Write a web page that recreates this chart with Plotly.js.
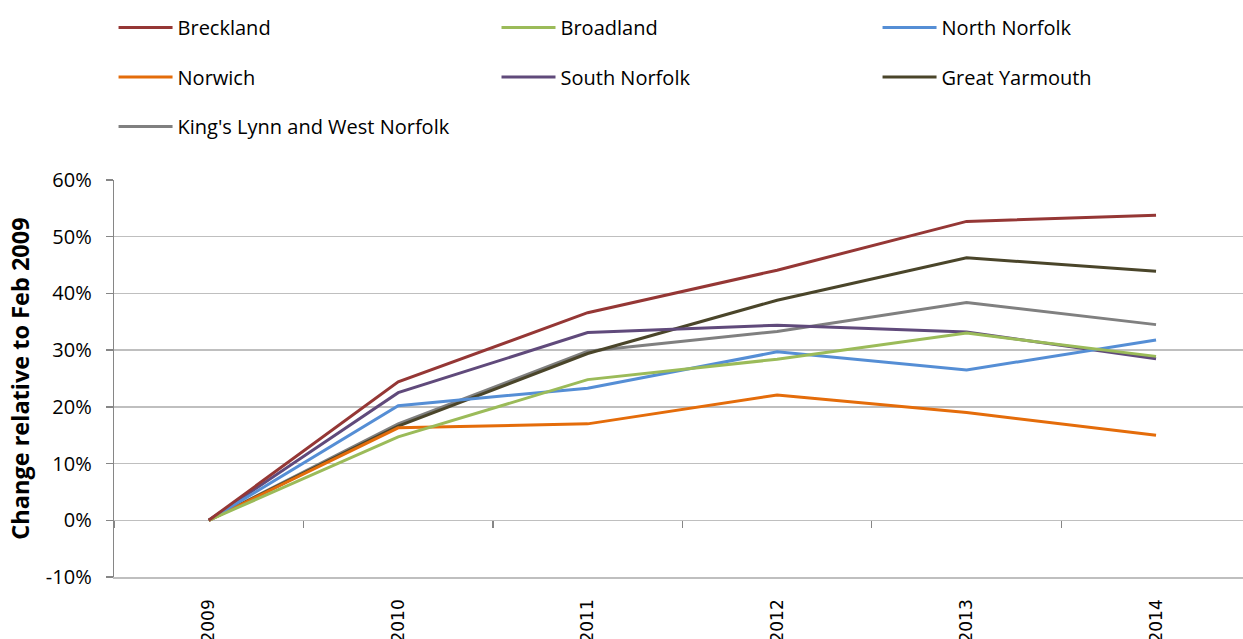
<!DOCTYPE html>
<html>
<head>
<meta charset="utf-8">
<script src="https://cdn.plot.ly/plotly-3.0.1.min.js"></script>
<style>html,body{margin:0;padding:0;background:#fff;}#chart{width:1243px;height:639px;}</style>
</head>
<body>
<div id="chart"></div>
<script>
// ---- data ----
var years = ['2009', '2010', '2011', '2012', '2013', '2014'];
var breckland = [0, 24.4, 36.6, 44.1, 52.7, 53.8];
var broadland = [0, 14.7, 24.8, 28.4, 33.0, 28.9];
var northNorfolk = [0, 20.2, 23.3, 29.7, 26.5, 31.8];
var norwich = [0, 16.3, 17.0, 22.1, 19.0, 15.0];
var southNorfolk = [0, 22.5, 33.1, 34.4, 33.2, 28.5];
var greatYarmouth = [0, 16.6, 29.4, 38.8, 46.3, 43.9];
var kingsLynn = [0, 17.0, 29.8, 33.3, 38.4, 34.5];
var yTickVals = [-10, 0, 10, 20, 30, 40, 50, 60];
var yTickText = ['-10%', '0%', '10%', '20%', '30%', '40%', '50%', '60%'];

var seriesNames = ['Breckland', 'Broadland', 'North Norfolk', 'Norwich', 'South Norfolk', 'Great Yarmouth', "King's Lynn and West Norfolk"];
var seriesData = [breckland, broadland, northNorfolk, norwich, southNorfolk, greatYarmouth, kingsLynn];
var seriesColors = ['#953735', '#9BBB59', '#558ED5', '#E46C0A', '#604A7B', '#4A452A', '#808080'];
// legend columns (one legend per column)
var seriesLegend = ['legend', 'legend2', 'legend3', 'legend', 'legend2', 'legend3', 'legend'];

var traces = [];
// draw in reverse so Breckland ends on top
for (var i = seriesNames.length - 1; i >= 0; i--) {
  traces.push({
    type: 'scatter', mode: 'lines',
    x: years, y: seriesData[i], name: seriesNames[i],
    line: {color: seriesColors[i], width: 3},
    legend: seriesLegend[i], legendgroup: seriesNames[i], legendrank: i
  });
}
// invisible helper trace to carry the tick marks on the 0% line
traces.push({type: 'scatter', mode: 'lines', x: years, y: breckland, xaxis: 'x2',
  line: {width: 0}, opacity: 0, showlegend: false, hoverinfo: 'skip'});

var FONT = 'Open Sans, sans-serif';
var xRange = [-0.5, 5.459];
function leg(x) {
  return {orientation: 'v', x: x, xanchor: 'left', y: 1.4335, yanchor: 'top',
    itemwidth: 54, tracegroupgap: 20.5,
    font: {family: FONT, size: 20, color: '#000'}, bgcolor: 'rgba(0,0,0,0)',
    traceorder: 'grouped', itemclick: false};
}

var layout = {
  width: 1243, height: 639,
  margin: {l: 114, r: 0, t: 180, b: 62},
  paper_bgcolor: '#fff', plot_bgcolor: '#fff',
  showlegend: true,
  legend: leg(-0.0004), legend2: leg(0.3388), legend3: leg(0.6763),
  xaxis: {type: 'category', range: xRange, showgrid: false, zeroline: false,
    showline: true, linecolor: '#BFBFBF', linewidth: 1.5, ticks: '',
    tickangle: -90, ticklabelstandoff: 14,
    tickfont: {family: 'DejaVu Sans, sans-serif', size: 17, color: '#000'}},
  xaxis2: {type: 'category', overlaying: 'x', anchor: 'free', position: 10 / 70,
    range: xRange, showgrid: false, zeroline: false, showline: false,
    ticks: 'outside', tickson: 'boundaries', ticklen: 7, tickwidth: 1.3, tickcolor: '#868686',
    showticklabels: false},
  yaxis: {range: [-10, 60], tickvals: yTickVals, ticktext: yTickText,
    showgrid: true, gridcolor: '#BFBFBF', gridwidth: 1.5, zeroline: false,
    showline: true, linecolor: '#868686', linewidth: 1.3,
    ticks: 'outside', ticklen: 7, tickcolor: '#868686', tickwidth: 1.3,
    ticklabelstandoff: 10,
    tickfont: {family: FONT, size: 20, color: '#000'},
    title: {text: 'Change relative to Feb 2009', standoff: 9,
      font: {family: FONT, size: 23.5, color: '#000', weight: 'bold'}}}
};

Plotly.newPlot('chart', traces, layout, {displayModeBar: false, staticPlot: true});
</script>
</body>
</html>
